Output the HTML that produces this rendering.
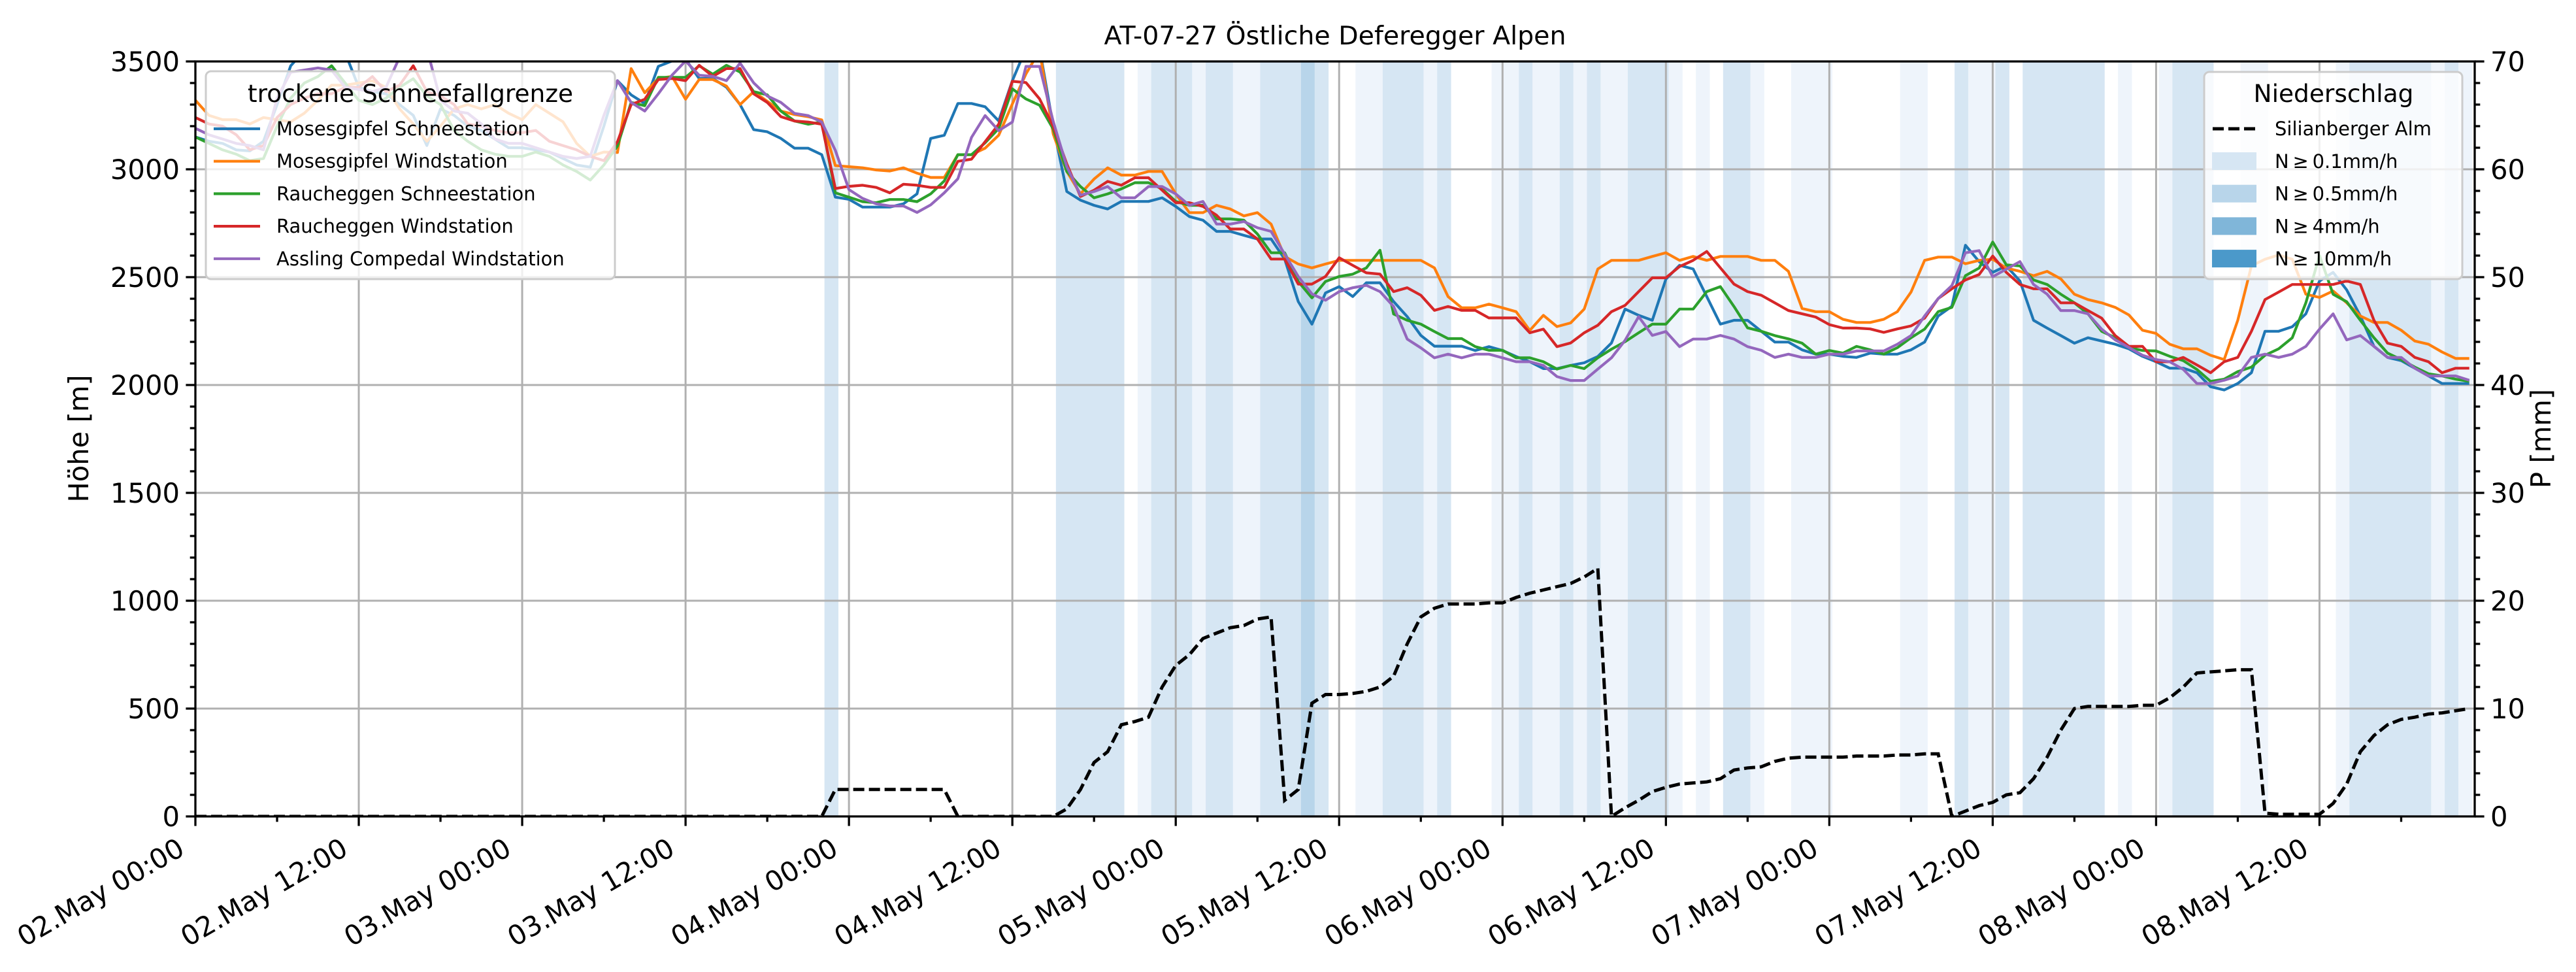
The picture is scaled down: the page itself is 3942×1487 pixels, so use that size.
<!DOCTYPE html>
<html><head><meta charset="utf-8">
<style>
html,body{margin:0;padding:0;background:#fff;}
svg{display:block;font-family:"DejaVu Sans","Liberation Sans",sans-serif;}
</style></head>
<body>
<svg id="chart" width="3942" height="1487" viewBox="0 0 3942 1487" xmlns="http://www.w3.org/2000/svg">
<defs><clipPath id="plotclip"><rect x="299" y="94" width="3488" height="1155"/></clipPath></defs>
<rect x="0" y="0" width="3942" height="1487" fill="#fff"/>
<g id="bands" clip-path="url(#plotclip)"></g>
<g id="grid"></g>
<g id="series" clip-path="url(#plotclip)"></g>
<g id="axes"></g>
<text x="2043" y="68" font-size="39.5" text-anchor="middle">AT-07-27 Östliche Deferegger Alpen</text>
<text transform="translate(135,671) rotate(-90)" font-size="41.7" text-anchor="middle">Höhe [m]</text>
<text transform="translate(3903,671) rotate(-90)" font-size="41.7" text-anchor="middle">P [mm]</text>
<g id="legend1">
<rect x="315" y="109" width="626" height="318" rx="8" fill="#fff" fill-opacity="0.8" stroke="#cccccc" stroke-width="3"/>
<text x="628" y="156" font-size="37.5" text-anchor="middle">trockene Schneefallgrenze</text>
</g>
<g id="legend2">
<rect x="3373" y="110" width="395" height="317" rx="8" fill="#fff" fill-opacity="0.8" stroke="#cccccc" stroke-width="3"/>
<text x="3571" y="156" font-size="37.5" text-anchor="middle">Niederschlag</text>
</g>
</svg>
<script>
// ---- data ----
const hours = Array.from({length:168},(_, i)=>i);
const seriesNames = ["Mosesgipfel Schneestation","Mosesgipfel Windstation","Raucheggen Schneestation","Raucheggen Windstation","Assling Compedal Windstation"];
const seriesColors = ["#1f77b4","#ff7f0e","#2ca02c","#d62728","#9467bd"];
const mosesSchnee = [3150,3130,3120,3090,3085,3130,3300,3480,3550,3550,3550,3540,3380,3360,3350,3300,3250,3110,3280,3250,3200,3180,3140,3100,3100,3090,3080,3050,3020,3010,3200,3411,3345,3305,3477,3502,3510,3421,3421,3381,3300,3184,3174,3143,3098,3098,3068,2871,2861,2825,2825,2825,2840,2886,3143,3158,3305,3305,3290,3224,3411,3560,3560,3200,2897,2857,2833,2816,2851,2851,2851,2868,2828,2781,2764,2712,2712,2694,2677,2677,2584,2387,2282,2427,2456,2410,2474,2474,2387,2317,2230,2180,2180,2180,2160,2178,2160,2132,2108,2076,2076,2091,2103,2132,2195,2352,2323,2300,2491,2555,2538,2410,2282,2300,2300,2249,2199,2199,2163,2143,2143,2133,2128,2148,2143,2143,2163,2199,2320,2365,2648,2572,2522,2552,2482,2300,2264,2229,2194,2219,2204,2189,2168,2133,2108,2078,2078,2057,1992,1977,2007,2057,2249,2249,2270,2330,2482,2522,2441,2320,2179,2128,2113,2078,2042,2007,2007,2007];
const mosesWind = [3320,3250,3230,3230,3210,3240,3230,3220,3260,3320,3390,3390,3400,3410,3380,3280,3210,3130,3200,3280,3300,3280,3300,3260,3230,3300,3260,3220,3120,3060,3080,3078,3467,3355,3421,3431,3325,3416,3416,3386,3300,3360,3315,3270,3254,3244,3229,3017,3012,3007,2997,2992,3007,2982,2962,2962,3068,3068,3098,3158,3303,3442,3550,3164,2990,2886,2955,3007,2973,2973,2990,2990,2886,2799,2799,2833,2816,2784,2799,2746,2596,2561,2543,2561,2578,2578,2578,2578,2578,2578,2578,2543,2410,2358,2358,2375,2358,2340,2253,2323,2271,2288,2352,2538,2578,2578,2578,2596,2613,2578,2596,2578,2596,2596,2596,2578,2578,2527,2355,2340,2340,2305,2290,2290,2305,2340,2431,2578,2593,2593,2562,2578,2583,2542,2527,2507,2527,2492,2421,2396,2381,2360,2325,2254,2239,2189,2168,2168,2138,2118,2300,2552,2583,2603,2583,2421,2406,2436,2381,2320,2290,2290,2254,2204,2189,2153,2123,2123];
const rauchSchnee = [3150,3120,3090,3070,3040,3050,3200,3330,3400,3430,3480,3400,3320,3300,3330,3380,3420,3340,3300,3180,3130,3090,3070,3060,3060,3080,3060,3020,2990,2950,3020,3108,3310,3295,3426,3426,3426,3480,3441,3482,3451,3360,3345,3270,3224,3209,3219,2891,2871,2850,2845,2860,2860,2850,2886,2946,3068,3068,3123,3189,3373,3326,3297,3187,2990,2920,2868,2886,2909,2938,2938,2909,2851,2833,2833,2770,2770,2764,2700,2613,2613,2480,2404,2480,2503,2514,2543,2625,2329,2300,2282,2248,2215,2215,2178,2161,2161,2126,2126,2108,2074,2091,2076,2126,2166,2201,2242,2282,2282,2352,2352,2433,2456,2364,2265,2249,2229,2214,2194,2143,2160,2148,2179,2163,2143,2173,2219,2259,2340,2360,2507,2542,2663,2557,2552,2487,2466,2421,2381,2330,2249,2219,2174,2160,2158,2133,2113,2072,2017,2027,2062,2083,2138,2168,2219,2381,2600,2421,2386,2300,2219,2148,2118,2083,2052,2042,2027,2017];
const rauchWind = [3240,3210,3200,3160,3090,3110,3240,3300,3330,3350,3350,3380,3380,3430,3360,3390,3480,3360,3340,3300,3210,3200,3180,3170,3170,3180,3130,3110,3090,3060,3040,3128,3300,3325,3416,3421,3411,3482,3431,3467,3467,3350,3310,3244,3224,3219,3209,2911,2921,2926,2916,2891,2931,2926,2916,2916,3037,3047,3128,3209,3408,3402,3326,3199,3025,2874,2903,2944,2926,2961,2961,2903,2845,2845,2828,2787,2723,2723,2677,2584,2584,2468,2468,2503,2590,2555,2520,2514,2433,2451,2416,2346,2364,2346,2346,2311,2311,2311,2242,2259,2178,2195,2242,2277,2340,2369,2433,2497,2497,2549,2578,2619,2543,2468,2433,2416,2381,2345,2330,2315,2280,2264,2264,2260,2244,2260,2274,2310,2401,2446,2487,2512,2598,2522,2466,2446,2446,2381,2381,2345,2310,2229,2179,2179,2108,2108,2128,2093,2057,2108,2128,2249,2396,2431,2466,2466,2466,2466,2482,2466,2300,2194,2179,2128,2108,2057,2078,2078];
const assling = [3190,3160,3140,3120,3110,3090,3330,3450,3460,3470,3460,3380,3370,3360,3380,3520,3560,3560,3320,3270,3260,3210,3140,3120,3120,3100,3080,3060,3050,3060,3250,3411,3310,3270,3350,3436,3502,3436,3431,3411,3492,3401,3340,3310,3259,3249,3219,3088,2906,2865,2840,2830,2830,2800,2835,2891,2956,3148,3249,3179,3219,3477,3477,3222,3013,2880,2897,2920,2868,2868,2920,2920,2886,2833,2851,2746,2746,2758,2729,2712,2607,2503,2422,2393,2433,2451,2462,2433,2364,2213,2172,2126,2143,2126,2143,2143,2126,2108,2108,2091,2039,2021,2021,2074,2126,2207,2317,2230,2248,2178,2213,2213,2230,2213,2178,2161,2128,2143,2128,2128,2143,2143,2158,2158,2158,2189,2229,2320,2401,2461,2613,2623,2502,2537,2572,2466,2421,2345,2345,2330,2259,2209,2174,2138,2118,2108,2072,2007,2007,2022,2042,2128,2143,2128,2143,2179,2259,2330,2209,2229,2179,2128,2128,2078,2042,2042,2042,2022];
const precip = [0,0,0,0,0,0,0,0,0,0,0,0,0,0,0,0,0,0,0,0,0,0,0,0,0,0,0,0,0,0,0,0,0,0,0,0,0,0,0,0,0,0,0,0,0,0,0,2.5,2.5,2.5,2.5,2.5,2.5,2.5,2.5,2.5,0,0,0,0,0,0,0,0,0.7,2.5,5,6,8.5,8.8,9.2,12,14,15,16.5,17,17.5,17.7,18.3,18.5,1.5,2.5,10.5,11.3,11.3,11.4,11.6,12,13,16,18.5,19.3,19.7,19.7,19.7,19.8,19.8,20.3,20.7,21,21.3,21.6,22.2,23,0,0.8,1.5,2.3,2.7,3,3.1,3.2,3.5,4.3,4.5,4.6,5.1,5.4,5.5,5.5,5.5,5.5,5.6,5.6,5.6,5.7,5.7,5.8,5.8,0,0.5,1,1.3,2,2.2,3.5,5.5,8,10,10.2,10.2,10.2,10.2,10.3,10.3,11,12,13.3,13.4,13.5,13.6,13.6,0.3,0.2,0.2,0.2,0.2,1.2,3,6,7.5,8.5,9,9.2,9.5,9.6,9.8,10];
const bandHours = [46,63,64,65,66,67,69,70,71,72,73,74,75,76,77,78,79,80,81,82,85,86,87,88,89,90,91,95,96,97,98,99,100,101,102,103,104,105,106,107,108,110,112,113,114,117,118,119,125,126,129,130,131,132,134,135,136,137,138,139,141,144,145,146,147,150,151,157,158,159,160,161,162,163,164,165,166];
const bandLevels = [2,2,2,2,2,2,1,2,2,2,1,2,2,1,1,2,2,2,3,2,1,1,2,2,2,1,2,1,1,2,1,1,2,1,2,1,1,2,2,2,1,1,2,2,1,1,1,1,1,1,2,1,1,2,2,2,2,2,2,2,1,1,2,2,2,1,1,1,2,2,2,2,2,2,1,2,1];
const yTicks = [0,500,1000,1500,2000,2500,3000,3500];
const pTicks = [0,10,20,30,40,50,60,70];
const xTickHours = [0,12,24,36,48,60,72,84,96,108,120,132,144,156];
const xTickLabels = ["02.May 00:00","02.May 12:00","03.May 00:00","03.May 12:00","04.May 00:00","04.May 12:00","05.May 00:00","05.May 12:00","06.May 00:00","06.May 12:00","07.May 00:00","07.May 12:00","08.May 00:00","08.May 12:00"];
const legendLevels = ["N\u2009\u2265\u20090.1mm/h","N\u2009\u2265\u20090.5mm/h","N\u2009\u2265\u20094mm/h","N\u2009\u2265\u200910mm/h"];

// ---- axes ----
const X0=299, X1=3787, Y0=1249, Y1=94, HMAX=167.4;
const xs = h => X0 + (h/HMAX)*(X1-X0);
const ys = v => Y0 - (v/3500)*(Y0-Y1);
const yp = p => Y0 - (p/70)*(Y0-Y1);
const levelColors = ["#ffffff","#eef4fb","#d6e6f3","#b8d5ea","#80b6d9"];
const NS="http://www.w3.org/2000/svg";
function mk(tag, attrs, parent){const e=document.createElementNS(NS,tag);for(const k in attrs)e.setAttribute(k,attrs[k]);parent.appendChild(e);return e;}

const bandsG=document.getElementById('bands');
bandHours.forEach((h,i)=>{
  const r=mk('rect',{x:xs(h+0.2),y:Y1,width:xs(h+1.2)-xs(h+0.2)+0.5,height:Y0-Y1,fill:levelColors[bandLevels[i]]},bandsG);
  
  
});

const gridG=document.getElementById('grid');
xTickHours.forEach(h=>{ if(h>0){const l=mk('line',{x1:xs(h),x2:xs(h),y1:Y1,y2:Y0,stroke:'#b0b0b0','stroke-width':3},gridG);
  
  }});
yTicks.forEach(v=>{ if(v>0&&v<3500){const l=mk('line',{x1:X0,x2:X1,y1:ys(v),y2:ys(v),stroke:'#b0b0b0','stroke-width':3},gridG);
  
  }});

const serG=document.getElementById('series');
[mosesSchnee,mosesWind,rauchSchnee,rauchWind,assling].forEach((arr,si)=>{
  const d=arr.map((v,i)=>(i?'L':'M')+xs(hours[i]).toFixed(1)+' '+ys(v).toFixed(1)).join(' ');
  const p=mk('path',{d:d,fill:'none',stroke:seriesColors[si],'stroke-width':4.2,'stroke-linejoin':'round'},serG);
  
  
});
{
  const d=precip.map((v,i)=>(i?'L':'M')+xs(hours[i]).toFixed(1)+' '+yp(v).toFixed(1)).join(' ');
  const p=mk('path',{d:d,fill:'none',stroke:'#000','stroke-width':5,'stroke-dasharray':'17 7'},serG);
  
  
}

const axG=document.getElementById('axes');
mk('rect',{x:X0,y:Y1,width:X1-X0,height:Y0-Y1,fill:'none',stroke:'#000','stroke-width':3.3},axG);
for(let v=0;v<=3500;v+=100){const maj=v%500===0;mk('line',{x1:X0,x2:X0-(maj?14.6:8.3),y1:ys(v),y2:ys(v),stroke:'#000','stroke-width':3.3},axG);}
for(let p=0;p<=70;p+=2){const maj=p%10===0;mk('line',{x1:X1,x2:X1+(maj?14.6:8.3),y1:yp(p),y2:yp(p),stroke:'#000','stroke-width':3.3},axG);}
for(let h=0;h<=HMAX;h+=6){const maj=h%12===0;mk('line',{x1:xs(h),x2:xs(h),y1:Y0,y2:Y0+(maj?14.6:8.3),stroke:'#000','stroke-width':3.3},axG);}
yTicks.forEach(v=>{const t=mk('text',{x:X0-24,y:ys(v)+15,'font-size':41.7,'text-anchor':'end'},axG);t.textContent=String(v);
  
  });
pTicks.forEach(p=>{const t=mk('text',{x:X1+24,y:yp(p)+15,'font-size':41.7,'text-anchor':'start'},axG);t.textContent=String(p);
  
  });
xTickHours.forEach((h,i)=>{const px=xs(h)-14, py=1306;
  const t=mk('text',{x:px,y:py,'font-size':41.7,'text-anchor':'end',transform:`rotate(-30 ${px} ${py})`},axG);t.textContent=xTickLabels[i];
  
  });

// legends
const lg1=document.getElementById('legend1');
seriesNames.forEach((n,i)=>{const y=197+i*49.7;
  const g=mk('g',{},lg1);
  
  
  mk('line',{x1:327,x2:398,y1:y,y2:y,stroke:seriesColors[i],'stroke-width':4.2},g);
  const t=mk('text',{x:423,y:y+10,'font-size':29},g);t.textContent=n;});
const lg2=document.getElementById('legend2');
{const g=mk('g',{},lg2);
  
  
  mk('line',{x1:3386,x2:3453,y1:197,y2:197,stroke:'#000','stroke-width':5,'stroke-dasharray':'17 7'},g);
  const t=mk('text',{x:3481,y:207,'font-size':29},g);t.textContent='Silianberger Alm';}
const patchCols=["#d6e6f3","#b8d5ea","#80b6d9","#4b99ca"];
legendLevels.forEach((n,i)=>{const y=247+i*49.7;
  const g=mk('g',{},lg2);
  
  
  mk('rect',{x:3385,y:y-14,width:68,height:27,fill:patchCols[i]},g);
  const t=mk('text',{x:3481,y:y+10,'font-size':29},g);t.textContent=n;});
</script>
</body></html>
